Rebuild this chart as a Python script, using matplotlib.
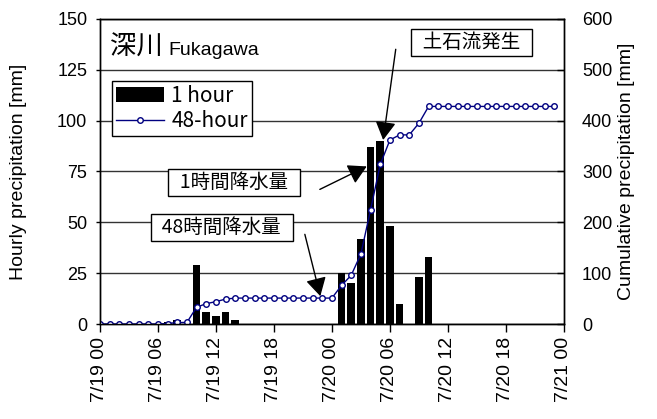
import matplotlib
matplotlib.use("Agg")
import matplotlib.pyplot as plt
import numpy as np

# hourly series, 7/19 00 .. 7/20 23
hours = np.arange(48)
hourly_mm = [0, 0, 0, 0, 0, 0, 0, 1, 2, 0,
             29, 6, 4, 6, 2, 0, 0, 0, 0, 0,
             0, 0, 0, 0, 0, 25, 20, 42, 87, 90,
             48, 10, 0, 23, 33, 0, 0, 0, 0, 0,
             0, 0, 0, 0, 0, 0, 0, 0]
cumulative_mm = [0, 0, 0, 0, 0, 0, 0, 1, 3, 3,
                 33, 40, 44, 49, 51, 51, 51, 51, 51, 51,
                 51, 51, 51, 51, 51, 76, 96, 138, 225, 314,
                 362, 372, 372, 395, 428, 428, 428, 428, 428, 428,
                 428, 428, 428, 428, 428, 428, 428, 428]
tick_hours = [0, 6, 12, 18, 24, 30, 36, 42, 48]
tick_labels = ["7/19 00", "7/19 06", "7/19 12", "7/19 18", "7/20 00",
               "7/20 06", "7/20 12", "7/20 18", "7/21 00"]

LATIN = "Liberation Sans"
JP = ["Noto Sans CJK JP", "DejaVu Sans"]
NAVY = "#000080"

fig = plt.figure(figsize=(6.57, 4.19), dpi=100)
ax = fig.add_axes([0.152, 0.2267, 0.7064, 0.728])
ax2 = ax.twinx()

ax.bar(hours, hourly_mm, width=0.8, color="black", zorder=2, label="1 hour")
ax2.plot(hours, cumulative_mm, color=NAVY, lw=1.0, marker="o", ms=4,
         mfc="white", mec=NAVY, mew=1.0, label="48-hour")

ax.set_xlim(0, 48)
ax.set_ylim(0, 150)
ax2.set_ylim(0, 600)
ax.set_yticks(np.arange(0, 151, 25))
ax2.set_yticks(np.arange(0, 601, 100))
ax.set_xticks(tick_hours)
ax.set_xticklabels(tick_labels, rotation=90, family=LATIN, fontsize=14)
for lab in ax.get_yticklabels() + ax2.get_yticklabels():
    lab.set_family(LATIN)
    lab.set_fontsize(13)

ax.yaxis.grid(True, color="#333333", lw=1.0, zorder=0)
ax.set_axisbelow(True)
ax.tick_params(axis="x", direction="out", length=6, width=1, pad=3)
ax.tick_params(axis="y", direction="out", length=3, width=1, pad=6)
ax2.tick_params(axis="y", direction="in", length=5, width=1, pad=13)
for a in (ax, ax2):
    for sp in a.spines.values():
        sp.set_color("black")
        sp.set_linewidth(1.0)

ax.set_ylabel("Hourly precipitation [mm]", family=LATIN, fontsize=14, labelpad=22)
ax2.set_ylabel("Cumulative precipitation [mm]", family=LATIN, fontsize=14, labelpad=4)

# station name
ax2.text(0.0216, 0.882, "深川", transform=ax.transAxes, family=JP, fontsize=19,
         va="baseline", ha="left")
ax2.text(0.148, 0.882, "Fukagawa", transform=ax.transAxes, family=LATIN, fontsize=14,
         va="baseline", ha="left")

h1, l1 = ax.get_legend_handles_labels()
h2, l2 = ax2.get_legend_handles_labels()
leg = ax2.legend(h1 + h2, l1 + l2, loc="upper left", bbox_to_anchor=(0.026, 0.797),
                 prop={"family": JP, "size": 15}, frameon=True, fancybox=False,
                 edgecolor="black", framealpha=1, borderpad=0.2, labelspacing=0.15,
                 handlelength=2.3, handletextpad=0.35, borderaxespad=0)
leg.get_frame().set_linewidth(1.0)

box = dict(boxstyle="square,pad=0.15", fc="white", ec="black", lw=1.0)
arrow = dict(arrowstyle="-|>,head_length=0.8,head_width=0.45", mutation_scale=14,
             color="black", lw=1.0, shrinkA=0, shrinkB=0)

notes = [
    ("土石流発生", (38.4, 138.5), (30.6, 135.1), (29.3, 90.5)),
    ("1時間降水量", (13.9, 69.6), (22.75, 66.2), (27.6, 77.5)),
    ("48時間降水量", (12.6, 47.5), (21.2, 44.1), (22.8, 13.7)),
]
for label, (tx, ty), tail, tip in notes:
    ax2.text(tx, ty, "  " + label + "  ", transform=ax.transData, family=JP,
             fontsize=14, ha="center", va="center", bbox=box, zorder=5)
    ax2.annotate("", xy=tip, xycoords=ax.transData, xytext=tail,
                 textcoords=ax.transData, arrowprops=arrow, zorder=5)

fig.savefig("out.png", dpi=100)
